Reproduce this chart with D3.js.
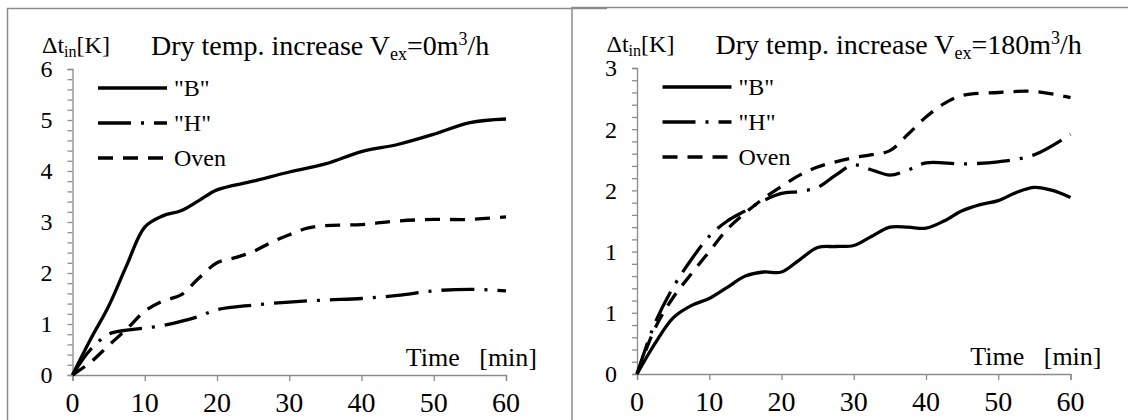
<!DOCTYPE html>
<html><head><meta charset="utf-8">
<script src="https://cdnjs.cloudflare.com/ajax/libs/d3/7.8.5/d3.min.js"></script>
<style>body{margin:0;background:#fff}svg{display:block}text{font-family:"Liberation Serif","Times New Roman",serif;fill:#000}</style>
</head><body><svg id="c" width="1128" height="420" font-family="Liberation Serif, Times New Roman, serif"></svg>
<script>
// ---- data ----
const xTicks = [0, 10, 20, 30, 40, 50, 60];
const seriesNames = ['"B"', '"H"', 'Oven'];
// left panel: V_ex = 0 m3/h
const leftB = [[0,0],[2.5,0.7],[5,1.35],[7.5,2.15],[10,2.9],[12.5,3.12],[15,3.22],[17.5,3.42],[20,3.63],[25,3.8],[30,3.98],[35,4.14],[40,4.38],[45,4.52],[50,4.72],[55,4.95],[60,5.02]];
const leftH = [[0,0],[2.5,0.5],[5,0.8],[7.5,0.88],[10,0.92],[12.5,0.97],[15,1.05],[17.5,1.15],[20,1.28],[25,1.37],[30,1.43],[35,1.47],[40,1.5],[45,1.56],[50,1.65],[55,1.68],[60,1.65]];
const leftOven = [[0,0],[2.5,0.25],[5,0.58],[7.5,0.9],[10,1.25],[12.5,1.45],[15,1.57],[17.5,1.9],[20,2.2],[22.5,2.3],[25,2.42],[27.5,2.6],[30,2.75],[32.5,2.88],[35,2.93],[40,2.95],[45,3.02],[50,3.05],[55,3.05],[60,3.1]];
const leftYTicks = [0, 1, 2, 3, 4, 5, 6];
// right panel: V_ex = 180 m3/h
const rightB = [[0,0],[2.5,0.3],[5,0.55],[7.5,0.67],[10,0.74],[12.5,0.85],[15,0.96],[17.5,1.0],[20,1.0],[22.5,1.12],[25,1.24],[27.5,1.25],[30,1.26],[32.5,1.35],[35,1.44],[37.5,1.44],[40,1.43],[42.5,1.5],[45,1.6],[47.5,1.66],[50,1.7],[52.5,1.78],[55,1.83],[57.5,1.8],[60,1.73]];
const rightH = [[0,0],[2.5,0.5],[5,0.85],[7.5,1.12],[10,1.35],[12.5,1.5],[15,1.6],[17.5,1.7],[20,1.77],[22.5,1.79],[25,1.83],[27.5,1.95],[30,2.05],[32.5,2.0],[35,1.95],[37.5,2.0],[40,2.07],[45,2.06],[50,2.08],[55,2.15],[60,2.35]];
const rightOven = [[0,0],[2.5,0.45],[5,0.75],[7.5,0.98],[10,1.2],[12.5,1.42],[15,1.58],[17.5,1.72],[20,1.84],[22.5,1.95],[25,2.03],[27.5,2.08],[30,2.12],[32.5,2.15],[35,2.19],[37.5,2.35],[40,2.52],[42.5,2.65],[45,2.73],[50,2.76],[55,2.77],[60,2.71]];
const rightYTicks = [0, 0.6, 1.2, 1.8, 2.4, 3.0];

const svg = d3.select('#c');
const FONT = 'Liberation Serif, Times New Roman, serif';
const dashes = [null, '33,10,3,10', '15,10'];

function panel(ox, oy, yMax, yTicks, minorStep, series, vex) {
  const g = svg.append('g').attr('transform', `translate(${ox},${oy})`).attr('font-family', FONT);
  // frame
  g.append('path').attr('d', `M0.5,480 V0.5 H600`).attr('fill','none').attr('stroke','#8c8c8c').attr('stroke-width',1.5);
  const x = d3.scaleLinear().domain([0, 60]).range([65.5, 499]);
  const y = d3.scaleLinear().domain([0, yMax]).range([367, 61]);
  // y axis with minor ticks
  const minor = d3.range(0, yMax + 1e-9, minorStep);
  const ya = g.append('g').attr('transform', `translate(${x(0)},0)`)
    .call(d3.axisLeft(y).tickValues(minor).tickSize(5).tickFormat(''));
  ya.selectAll('path,line').attr('stroke','#8c8c8c').attr('stroke-width',1.3);
  g.selectAll('.ylab').data(yTicks).join('text')
    .attr('x', x(0) - 20).attr('y', d => y(d)).attr('dy','0.35em')
    .attr('text-anchor','end').attr('font-size',24).text(d => d3.format('.0f')(d));
  // x axis
  const xa = g.append('g').attr('transform', `translate(0,${y(0)})`)
    .call(d3.axisBottom(x).tickValues(xTicks).tickSize(6).tickFormat(''));
  xa.selectAll('path,line').attr('stroke','#8c8c8c').attr('stroke-width',1.3);
  g.selectAll('.xlab').data(xTicks).join('text')
    .attr('x', d => x(d)).attr('y', 404).attr('text-anchor','middle').attr('font-size',28).text(d => d);
  // lines
  const line = d3.line().x(d => x(d[0])).y(d => y(d[1])).curve(d3.curveCatmullRom.alpha(0.5));
  series.forEach((s, i) => {
    g.append('path').attr('d', line(s)).attr('fill','none').attr('stroke','#000')
      .attr('stroke-width',3.3).attr('stroke-dasharray', dashes[i]);
  });
  // legend
  seriesNames.forEach((n, i) => {
    const ly = 80 + i * 35;
    g.append('line').attr('x1',91).attr('x2',160).attr('y1',ly).attr('y2',ly)
      .attr('stroke','#000').attr('stroke-width',3.3).attr('stroke-dasharray', dashes[i]);
    g.append('text').attr('x',167).attr('y',ly).attr('dy','0.35em').attr('font-size',24).text(n);
  });
  // y label
  const yl = g.append('text').attr('x',35).attr('y',45).attr('font-size',24);
  yl.append('tspan').text('Δt');
  yl.append('tspan').attr('font-size',16).attr('dy',4).text('in');
  yl.append('tspan').attr('dy',-4).text('[K]');
  // title
  const t = g.append('text').attr('x',144).attr('y',47).attr('font-size',28);
  t.append('tspan').text('Dry temp.  increase V');
  t.append('tspan').attr('font-size',18).attr('dy',5).text('ex');
  t.append('tspan').attr('dy',-5).text(`=${vex}m`);
  t.append('tspan').attr('font-size',18).attr('dy',-10).text('3');
  t.append('tspan').attr('dy',10).text('/h');
  // x title
  g.append('text').attr('x',530).attr('y',358).attr('text-anchor','end').attr('font-size',26)
    .attr('xml:space','preserve').text('Time   [min]');
}

panel(7, 8, 6, leftYTicks, 0.2, [leftB, leftH, leftOven], '0');
panel(571.5, 7, 3, rightYTicks, 0.12, [rightB, rightH, rightOven], '180');
</script></body></html>
